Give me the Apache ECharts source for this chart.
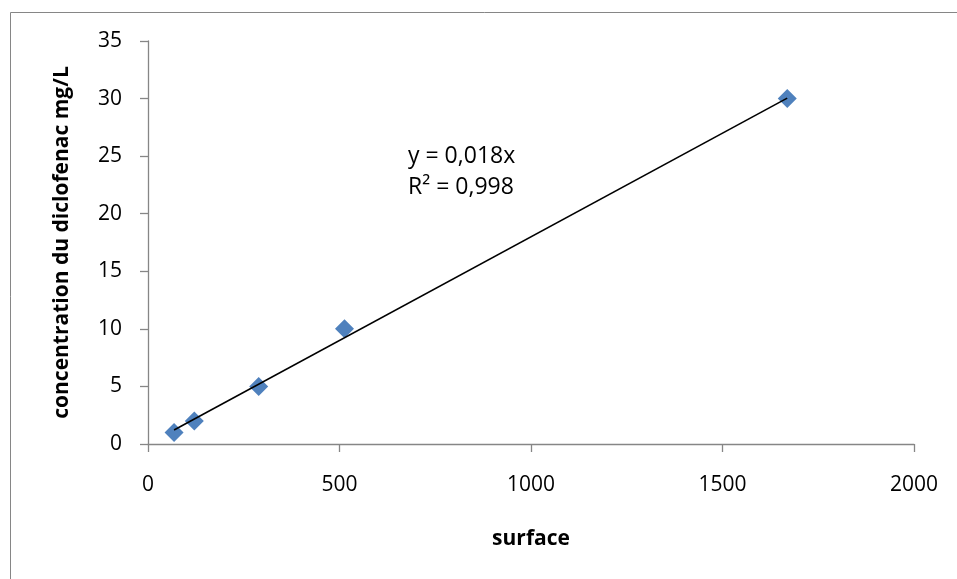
<!DOCTYPE html>
<html>
<head>
<meta charset="utf-8">
<script src="https://cdn.jsdelivr.net/npm/echarts@6/dist/echarts.min.js"></script>
<style>
  html, body { margin: 0; padding: 0; background: #fff; }
  #chart { width: 957px; height: 579px; }
</style>
</head>
<body>
<div id="chart"></div>
<script>
// surface (x) vs concentration (y)
const surface = [68, 121, 289, 513, 1669]
const concentration = [1, 2, 5, 10, 30]
// linear trendline endpoints (y = 0,018x)
const trendX = [68, 1669]
const trendY = [1.22, 30.04]
const xTicks = [0, 500, 1000, 1500, 2000]
const yTicks = [0, 5, 10, 15, 20, 25, 30, 35]

const chart = echarts.init(document.getElementById('chart'))
const axisColor = '#868686'
const font = 'Open Sans'

const option = {
  animation: false,
  graphic: [
    {
      type: 'rect',
      shape: { x: 10.5, y: 12.5, width: 1000, height: 1000 },
      style: { fill: 'none', stroke: axisColor, lineWidth: 1 }
    },
    {
      type: 'text',
      left: 408,
      top: 141,
      style: {
        text: 'y = 0,018x\nR² = 0,998',
        font: '23px "Open Sans"',
        lineHeight: 31,
        fill: '#000'
      }
    }
  ],
  grid: { left: 148, top: 41, right: 43, bottom: 135 },
  xAxis: {
    type: 'value',
    min: xTicks[0],
    max: xTicks[xTicks.length - 1],
    interval: 500,
    name: 'surface',
    nameLocation: 'middle',
    nameGap: 85,
    nameTextStyle: { fontFamily: font, fontWeight: 'bold', fontSize: 21, color: '#000' },
    axisLine: { show: true, lineStyle: { color: axisColor, width: 1.3 } },
    axisTick: { show: true, inside: false, length: 8, lineStyle: { color: axisColor, width: 1.3 } },
    axisLabel: { fontFamily: font, fontSize: 21, color: '#000', margin: 31, formatter: v => String(v) },
    splitLine: { show: false }
  },
  yAxis: {
    type: 'value',
    min: yTicks[0],
    max: yTicks[yTicks.length - 1],
    interval: 5,
    name: 'concentration du diclofenac mg/L',
    nameLocation: 'middle',
    nameGap: 75,
    nameTextStyle: { fontFamily: font, fontWeight: 'bold', fontSize: 21, color: '#000' },
    axisLine: { show: true, lineStyle: { color: axisColor, width: 1.3 } },
    axisTick: { show: true, inside: false, length: 8, lineStyle: { color: axisColor, width: 1.3 } },
    axisLabel: { fontFamily: font, fontSize: 21, color: '#000', margin: 26, formatter: v => String(v) },
    splitLine: { show: false }
  },
  series: [
    {
      type: 'line',
      data: trendX.map((x, i) => [x, trendY[i]]),
      showSymbol: false,
      symbol: 'none',
      lineStyle: { color: '#000', width: 1.6 },
      z: 3
    },
    {
      type: 'scatter',
      data: surface.map((x, i) => [x, concentration[i]]),
      symbol: 'diamond',
      symbolSize: [19, 19],
      itemStyle: { color: '#4F81BD', opacity: 1 },
      z: 2
    }
  ]
}

chart.setOption(option)
</script>
</body>
</html>
